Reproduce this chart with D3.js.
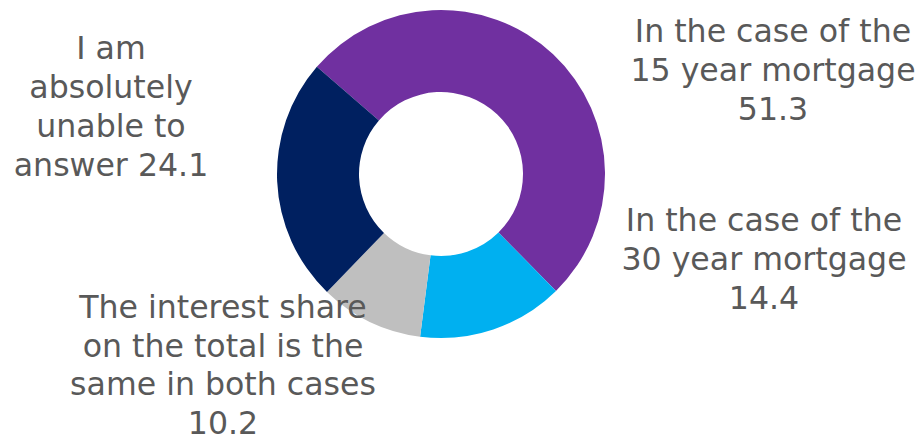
<!DOCTYPE html>
<html>
<head>
<meta charset="utf-8">
<script src="https://cdn.jsdelivr.net/npm/d3@7"></script>
<style>
  html, body { margin: 0; padding: 0; background: #fff; }
  svg { display: block; }
</style>
</head>
<body>
<svg id="chart" width="918" height="442"></svg>
<script>
// Survey answers: which mortgage has the larger interest share on the total (%)
const categories = [
  "In the case of the 15 year mortgage",
  "In the case of the 30 year mortgage",
  "The interest share on the total is the same in both cases",
  "I am absolutely unable to answer"
];
const values = [51.3, 14.4, 10.2, 24.1];
const colors = ["#7030A0", "#00B0F0", "#BFBFBF", "#002060"];
// Wrapped label lines; {v} is replaced by the slice value
const labelLines = [
  ["In the case of the", "15 year mortgage", "{v}"],
  ["In the case of the", "30 year mortgage", "{v}"],
  ["The interest share", "on the total is the", "same in both cases", "{v}"],
  ["I am", "absolutely", "unable to", "answer {v}"]
];

const svg = d3.select("#chart");
const cx = 441, cy = 174, outerR = 164, innerR = 82;
const startAngle = -49.2 * Math.PI / 180;

const data = categories.map((c, i) => ({ category: c, value: values[i], color: colors[i], lines: labelLines[i] }));

const pie = d3.pie()
  .sort(null)
  .value(d => d.value)
  .startAngle(startAngle)
  .endAngle(startAngle + 2 * Math.PI);

const arc = d3.arc().innerRadius(innerR).outerRadius(outerR);

const g = svg.append("g").attr("transform", `translate(${cx},${cy})`);
g.selectAll("path")
  .data(pie(data))
  .join("path")
  .attr("d", arc)
  .attr("fill", d => d.data.color);

// Label anchors: centre x, first baseline y and line gap for each slice label
const labelPos = [[773, 42, 39], [764, 231, 39], [223, 318, 38.5], [111, 59, 39]];
const fmt = d3.format(".1f");

const labels = svg.append("g")
  .attr("font-family", "'DejaVu Sans', Verdana, sans-serif")
  .attr("font-size", 31.6)
  .attr("fill", "#595959")
  .attr("text-anchor", "middle");

data.forEach((d, i) => {
  const [x, y, gap] = labelPos[i];
  const t = labels.append("text").attr("x", x).attr("y", y);
  d.lines.forEach((line, j) => {
    t.append("tspan")
      .attr("x", x)
      .attr("y", y + j * gap)
      .text(line.replace("{v}", fmt(d.value)));
  });
});
</script>
</body>
</html>
